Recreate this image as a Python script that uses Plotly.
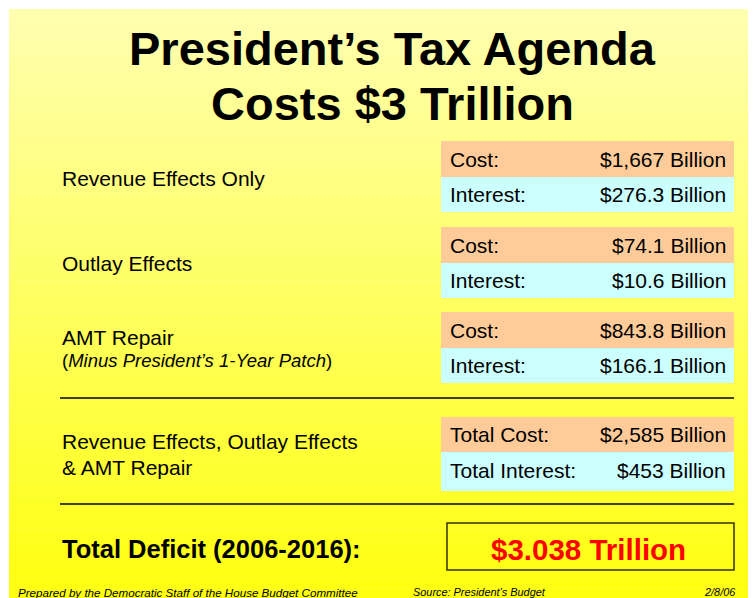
import plotly.graph_objects as go

# Daten
groups = ["Revenue Effects Only", "Outlay Effects", "AMT Repair"]
group_notes = ["", "", "Minus President’s 1-Year Patch"]
cost_billion = ["1,667", "74.1", "843.8"]
interest_billion = ["276.3", "10.6", "166.1"]
total_label = ["Revenue Effects, Outlay Effects", "& AMT Repair"]
total_cost_billion = "2,585"
total_interest_billion = "453"
deficit_trillion = "3.038"
deficit_years = "2006-2016"

W, H = 756, 598
OFF = 8  # Seitenrand des Browsers
FONT = "Liberation Sans, Arial, sans-serif"

fig = go.Figure()
fig.add_trace(go.Scatter(x=[OFF, W], y=[OFF, H], mode="markers", marker=dict(opacity=0),
                         hoverinfo="skip", showlegend=False))

shapes = []
# Hintergrund mit Verlauf (hellgelb -> gelb)
n = 60
top, bottom = 9, H
for i in range(n):
    t = i / (n - 1)
    b = int(round(176 - t * 160))
    y0 = top + (bottom - top) * i / n
    y1 = top + (bottom - top) * (i + 1) / n + 0.5
    shapes.append(dict(type="rect", x0=9, x1=W + 2, y0=y0, y1=y1, line_width=0,
                       fillcolor=f"rgb(255,255,{b})", layer="below"))

annotations = []


def txt(x, y, s, size, color="black", anchor="left", bold=False, italic=False):
    if bold:
        s = f"<b>{s}</b>"
    if italic:
        s = f"<i>{s}</i>"
    if anchor == "left":
        x -= 2
    elif anchor == "right":
        x += 2
    annotations.append(dict(x=x, y=y, text=s, showarrow=False, xanchor=anchor, yanchor="middle",
                            font=dict(size=size, color=color, family=FONT)))


# Titel
txt(392, 48, "President’s Tax Agenda", 47, anchor="center", bold=True)
txt(392, 103, "Costs $3 Trillion", 47, anchor="center", bold=True)

box_x0, box_x1 = 441, 734
row_tops = [141, 227, 312]
label_y = [178, 263, 337]
for i, g in enumerate(groups):
    r = row_tops[i]
    shapes.append(dict(type="rect", x0=box_x0, x1=box_x1, y0=r, y1=r + 36, line_width=0, fillcolor="#FFCC99"))
    shapes.append(dict(type="rect", x0=box_x0, x1=box_x1, y0=r + 36, y1=r + 71, line_width=0, fillcolor="#CCFFFF"))
    txt(450, r + 18, "Cost:", 21)
    txt(726, r + 18, f"${cost_billion[i]} Billion", 21, anchor="right")
    txt(450, r + 53.5, "Interest:", 21)
    txt(726, r + 53.5, f"${interest_billion[i]} Billion", 21, anchor="right")
    txt(62, label_y[i], g, 21)
    if group_notes[i]:
        txt(62, label_y[i] + 23, f"(<i>{group_notes[i]}</i>)", 18.5)

# Trennlinien
for y in [398, 504]:
    shapes.append(dict(type="line", x0=60, x1=734, y0=y, y1=y, line=dict(color="black", width=1.5)))

# Summen
shapes.append(dict(type="rect", x0=box_x0, x1=box_x1, y0=417, y1=452, line_width=0, fillcolor="#FFCC99"))
shapes.append(dict(type="rect", x0=box_x0, x1=box_x1, y0=452, y1=491, line_width=0, fillcolor="#CCFFFF"))
txt(450, 434.5, "Total Cost:", 21)
txt(726, 434.5, f"${total_cost_billion} Billion", 21, anchor="right")
txt(450, 470, "Total Interest:", 21)
txt(726, 470, f"${total_interest_billion} Billion", 21, anchor="right")
txt(62, 441, total_label[0], 21)
txt(62, 467, total_label[1], 21)

# Gesamtdefizit
txt(62, 549, f"Total Deficit ({deficit_years}):", 25.5, bold=True)
shapes.append(dict(type="rect", x0=447, x1=734, y0=523, y1=570, line=dict(color="#333300", width=1.5)))
txt(588, 549, f"${deficit_trillion} Trillion", 29.5, color="#FF0000", anchor="center", bold=True)

# Fusszeile
txt(18, 592, "Prepared by the Democratic Staff of the House Budget Committee", 11.6, italic=True)
txt(413, 592, "Source: President’s Budget", 10.9, italic=True)
txt(736, 592, "2/8/06", 10.9, italic=True, anchor="right")

fig.update_layout(
    width=W - OFF, height=H - OFF,
    margin=dict(l=0, r=0, t=0, b=0),
    paper_bgcolor="white", plot_bgcolor="white",
    xaxis=dict(range=[OFF, W], visible=False, fixedrange=True),
    yaxis=dict(range=[H, OFF], visible=False, fixedrange=True),
    shapes=shapes, annotations=annotations,
    showlegend=False,
)

fig.write_html("out.html")
